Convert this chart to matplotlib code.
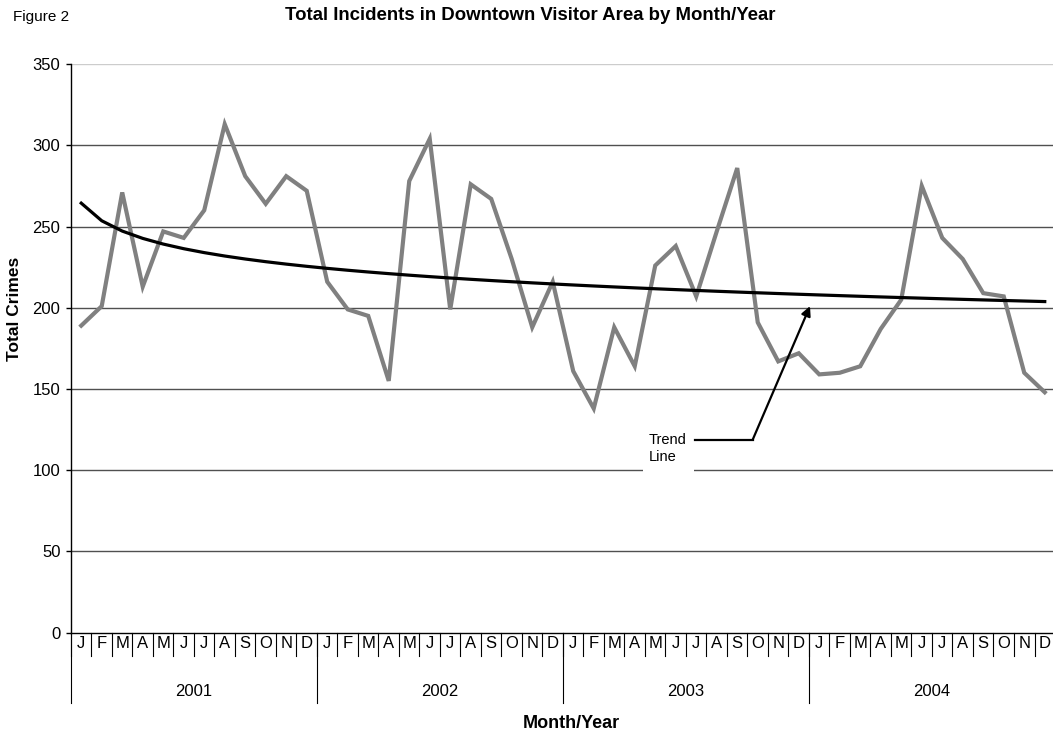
import numpy as np
import matplotlib.pyplot as plt
import matplotlib.patches as patches

plt.rcParams['font.family'] = ['Liberation Sans', 'DejaVu Sans']

# Data
YEARS = ['2001', '2002', '2003', '2004']
MONTHS = ['J', 'F', 'M', 'A', 'M', 'J', 'J', 'A', 'S', 'O', 'N', 'D']
incidents_2001 = [189, 201, 271, 213, 247, 243, 260, 313, 281, 264, 281, 272]
incidents_2002 = [216, 199, 195, 155, 278, 304, 199, 276, 267, 230, 188, 216]
incidents_2003 = [161, 138, 188, 164, 226, 238, 207, 247, 286, 191, 167, 172]
incidents_2004 = [159, 160, 164, 187, 205, 275, 243, 230, 209, 207, 160, 148]

incidents = np.array(incidents_2001 + incidents_2002 + incidents_2003 + incidents_2004, dtype=float)
n = len(incidents)
t = np.arange(1, n + 1)
xs = t - 0.5

# Excel-style logarithmic trend line fitted to the series
a, b = np.polyfit(np.log(t), incidents, 1)
trend = a * np.log(t) + b

W, H = 1053, 734
fig = plt.figure(figsize=(W / 100, H / 100), dpi=100)
ax = fig.add_axes([0.0674, 0.138, 0.9345, 0.7747])

ax.set_xlim(0, n)
ax.set_ylim(0, 350)
ax.set_yticks(range(0, 351, 50))
for v in range(50, 351, 50):
    ax.axhline(v, color='#cccccc' if v == 350 else '#505050', lw=1.0, zorder=1)

ax.plot(xs, incidents, color='#808080', lw=3.0, solid_joinstyle='miter', zorder=3)
ax.plot(xs, trend, color='black', lw=2.3, zorder=4)

# "Trend Line" callout
ax.add_patch(patches.Rectangle((27.9, 97), 2.5, 31, facecolor='white', edgecolor='none', zorder=2))
ax.text(28.2, 113.5, 'Trend\nLine', fontsize=10.5, ha='left', va='center', linespacing=1.3, zorder=5)
ax.plot([30.45, 33.25], [118.7, 118.7], color='black', lw=1.6, zorder=6)
ax.annotate('', xy=(36.05, 201), xytext=(33.25, 118.7),
            arrowprops=dict(arrowstyle='-|>', color='black', lw=1.6, mutation_scale=14,
                            shrinkA=0, shrinkB=0),
            zorder=6)

for s in ['top', 'right']:
    ax.spines[s].set_visible(False)
ax.spines['left'].set_linewidth(1.0)
ax.spines['bottom'].set_linewidth(1.0)
ax.tick_params(axis='y', length=3.6, width=1.0, labelsize=12, pad=4)
ax.set_xticks([])

# month / year category axis
xt = ax.get_xaxis_transform()
for i in range(n + 1):
    ax.plot([i, i], [0, -0.0404], transform=xt, color='black', lw=0.8, clip_on=False)
for i in range(n):
    ax.text(i + 0.5, -0.019, MONTHS[i % 12], transform=xt, ha='center', va='center', fontsize=12)
for k, yr in enumerate(YEARS):
    ax.plot([12 * k, 12 * k], [0, -0.123], transform=xt, color='black', lw=0.8, clip_on=False)
    ax.text(12 * k + 6, -0.103, yr, transform=xt, ha='center', va='center', fontsize=12)

fig.text(15 / W, 1 - 309 / H, 'Total Crimes', rotation=90, ha='center', va='center',
         fontsize=12.5, fontweight='bold')
fig.text(571 / W, 1 - 723 / H, 'Month/Year', ha='center', va='center', fontsize=13, fontweight='bold')
fig.text(530 / W, 1 - 16 / H, 'Total Incidents in Downtown Visitor Area by Month/Year',
         ha='center', va='center', fontsize=13.4, fontweight='bold')
fig.text(13 / W, 1 - 17 / H, 'Figure 2', ha='left', va='center', fontsize=11)

fig.savefig('out.png', dpi=100)
